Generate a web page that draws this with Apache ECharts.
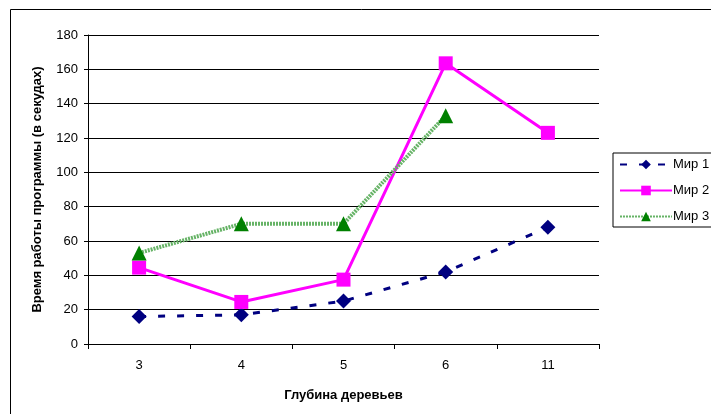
<!DOCTYPE html>
<html>
<head>
<meta charset="utf-8">
<script src="https://cdn.jsdelivr.net/npm/echarts@6/dist/echarts.min.js"></script>
<style>
  html, body { margin: 0; padding: 0; background: #fff; }
  #chart { width: 711px; height: 414px; }
</style>
</head>
<body>
<div id="chart"></div>
<script>
// Tree depth categories
const depths = ['3', '4', '5', '6', '11'];
// Run time (seconds) for each world
const world1 = [16, 17, 25, 42, 68];
const world2 = [44.5, 24.5, 37.5, 163.5, 123];
const world3 = [53, 70, 70, 133, null];
const seriesNames = ['Мир 1', 'Мир 2', 'Мир 3'];

const FONT = '"Liberation Sans", Arial, sans-serif';

const chart = echarts.init(document.getElementById('chart'), null, { renderer: 'canvas' });

chart.setOption({
  animation: false,
  backgroundColor: '#fff',
  textStyle: { fontFamily: FONT },
  graphic: [{
    type: 'rect',
    shape: { x: 10.5, y: 9.5, width: 800, height: 500 },
    style: { fill: 'none', stroke: '#000', lineWidth: 1 },
    silent: true
  }],
  grid: { left: 88, top: 35, right: 112, bottom: 70, containLabel: false },
  legend: {
    left: 613, top: 153,
    orient: 'vertical',
    itemWidth: 52, itemHeight: 12, itemGap: 13,
    padding: [5, 60, 4, 6],
    borderColor: '#000', borderWidth: 1,
    textStyle: { fontSize: 13, color: '#000', fontFamily: FONT, padding: [0, 0, 0, -4] },
    data: seriesNames
  },
  xAxis: {
    type: 'category',
    data: depths,
    boundaryGap: true,
    name: 'Глубина деревьев',
    nameLocation: 'middle',
    nameGap: 45,
    nameTextStyle: { fontSize: 13, fontWeight: 'bold', color: '#000', fontFamily: FONT },
    axisLine: { lineStyle: { color: '#000', width: 1 } },
    axisTick: { show: true, alignWithLabel: false, length: 5, lineStyle: { color: '#000' } },
    axisLabel: { fontSize: 13, color: '#000', margin: 15, fontFamily: FONT }
  },
  yAxis: {
    type: 'value',
    min: 0, max: 180, interval: 20,
    name: 'Время работы программы (в секудах)',
    nameLocation: 'middle',
    nameGap: 44,
    nameTextStyle: { fontSize: 13, fontWeight: 'bold', color: '#000', fontFamily: FONT },
    axisLine: { show: true, lineStyle: { color: '#000', width: 1 } },
    axisTick: { show: true, length: 4, lineStyle: { color: '#000' } },
    axisLabel: { fontSize: 13, color: '#000', margin: 10, fontFamily: FONT },
    splitLine: { show: true, lineStyle: { color: '#000', width: 1 } }
  },
  series: [
    {
      name: seriesNames[0],
      type: 'line',
      data: world1,
      symbol: 'diamond',
      symbolSize: 15,
      itemStyle: { color: '#000080' },
      lineStyle: { color: '#000080', width: 3, type: [7, 12] },
      z: 3
    },
    {
      name: seriesNames[1],
      type: 'line',
      data: world2,
      symbol: 'rect',
      symbolSize: 14,
      itemStyle: { color: '#ff00ff' },
      lineStyle: { color: '#ff00ff', width: 3 },
      z: 4
    },
    {
      name: seriesNames[2],
      type: 'line',
      data: world3,
      symbol: 'triangle',
      symbolSize: 15,
      itemStyle: { color: '#008000' },
      lineStyle: { color: '#66b366', width: 4, type: [2, 1] },
      z: 5
    }
  ]
});
</script>
</body>
</html>
